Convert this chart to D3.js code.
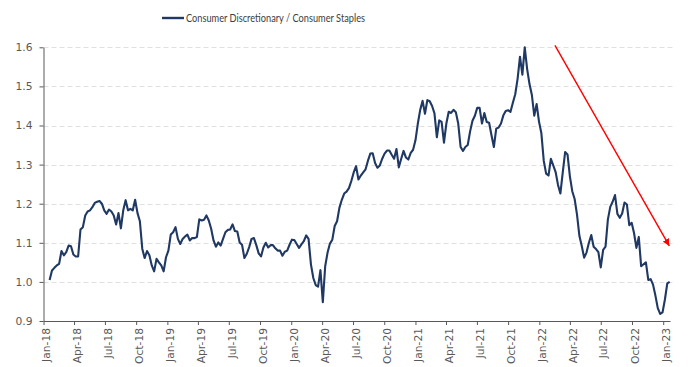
<!DOCTYPE html>
<html>
<head>
<meta charset="utf-8">
<script src="https://cdn.jsdelivr.net/npm/d3@7"></script>
<style>
  html, body { margin: 0; padding: 0; background: #fff; }
  svg { display: block; }
</style>
</head>
<body>
<svg id="chart" width="691" height="367"></svg>
<script>
// Weekly ratio series, first observation on 2018-01-19 (Fridays)
const seriesName = "Consumer Discretionary / Consumer Staples";
const firstWeek = "2018-01-19";
const ratio = [
  1.005, 1.029, 1.036, 1.042, 1.046, 1.079, 1.068, 1.076, 1.093, 1.091,
  1.070, 1.065, 1.065, 1.134, 1.140, 1.170, 1.180, 1.183, 1.191, 1.202,
  1.205, 1.207, 1.200, 1.183, 1.174, 1.185, 1.180, 1.170, 1.147, 1.176,
  1.137, 1.183, 1.209, 1.183, 1.187, 1.183, 1.210, 1.176, 1.155, 1.085,
  1.061, 1.079, 1.068, 1.042, 1.027, 1.059, 1.050, 1.042, 1.027, 1.063,
  1.080, 1.121, 1.127, 1.140, 1.110, 1.097, 1.110, 1.116, 1.121, 1.106,
  1.112, 1.112, 1.115, 1.160, 1.157, 1.159, 1.170, 1.157, 1.136, 1.106,
  1.090, 1.101, 1.093, 1.110, 1.127, 1.133, 1.134, 1.147, 1.130, 1.129,
  1.101, 1.095, 1.061, 1.072, 1.089, 1.110, 1.112, 1.094, 1.073, 1.065,
  1.088, 1.100, 1.088, 1.094, 1.094, 1.086, 1.080, 1.080, 1.067, 1.077,
  1.080, 1.095, 1.108, 1.107, 1.097, 1.087, 1.096, 1.104, 1.119, 1.110,
  1.045, 1.010, 0.992, 0.988, 1.030, 0.948, 1.040, 1.075, 1.098, 1.108,
  1.143, 1.155, 1.190, 1.210, 1.226, 1.231, 1.240, 1.258, 1.280, 1.296,
  1.262, 1.272, 1.280, 1.288, 1.310, 1.328, 1.329, 1.304, 1.292, 1.298,
  1.315, 1.328, 1.336, 1.336, 1.325, 1.315, 1.340, 1.293, 1.315, 1.335,
  1.318, 1.313, 1.330, 1.338, 1.362, 1.405, 1.440, 1.463, 1.430, 1.465,
  1.462, 1.450, 1.431, 1.370, 1.413, 1.409, 1.356, 1.405, 1.435, 1.432,
  1.440, 1.434, 1.405, 1.345, 1.335, 1.345, 1.350, 1.385, 1.412, 1.425,
  1.445, 1.445, 1.405, 1.432, 1.409, 1.407, 1.375, 1.345, 1.392, 1.395,
  1.405, 1.426, 1.437, 1.439, 1.435, 1.458, 1.480, 1.520, 1.576, 1.530,
  1.600, 1.545, 1.506, 1.478, 1.425, 1.455, 1.410, 1.380, 1.310, 1.277,
  1.272, 1.315, 1.298, 1.281, 1.248, 1.226, 1.280, 1.332, 1.326, 1.270,
  1.232, 1.212, 1.172, 1.118, 1.092, 1.062, 1.075, 1.100, 1.120, 1.090,
  1.084, 1.076, 1.037, 1.082, 1.090, 1.160, 1.192, 1.205, 1.222, 1.174,
  1.164, 1.175, 1.203, 1.198, 1.145, 1.151, 1.125, 1.087, 1.115, 1.040,
  1.045, 1.050, 1.005, 1.007, 0.993, 0.965, 0.933, 0.918, 0.922, 0.955,
  0.996, 1.000
];

// Axis settings
const yTicks = [0.9, 1.0, 1.1, 1.2, 1.3, 1.4, 1.5, 1.6];
const gridTicks = [1.0, 1.1, 1.2, 1.3, 1.4, 1.5, 1.6];
const xDomain = ["2018-01-01", "2023-01-21"];
const xTickStart = "2018-01-01";
const xTickEnd = "2023-01-02";

// Trend arrow annotation: [date, value] at tail and head
const trendArrow = [["2022-02-16", 1.605], ["2023-01-19", 1.092]];

const parse = d3.utcParse("%Y-%m-%d");
const start = parse(firstWeek);
const data = ratio.map((v, i) => ({ date: d3.utcWeek.offset(start, i), value: v }));

const svg = d3.select("#chart");
const plot = { left: 43.5, right: 670, top: 47.3, bottom: 321 };

const x = d3.scaleUtc().domain(xDomain.map(parse)).range([plot.left, plot.right]);
const y = d3.scaleLinear().domain([0.9, 1.6]).range([plot.bottom, plot.top]);

const axisColor = "#595959";
const labelFont = "'DejaVu Sans', Verdana, sans-serif";

// Dashed horizontal gridlines
svg.append("g")
  .selectAll("line")
  .data(gridTicks)
  .join("line")
  .attr("x1", plot.left)
  .attr("x2", plot.right + 3)
  .attr("y1", d => Math.round(y(d)) + 0.5)
  .attr("y2", d => Math.round(y(d)) + 0.5)
  .attr("stroke", "#e0e0e0")
  .attr("stroke-width", 1)
  .attr("stroke-dasharray", "5,3");

// Y axis
const yAxis = svg.append("g")
  .attr("transform", `translate(${plot.left},0)`)
  .call(d3.axisLeft(y).tickValues(yTicks).tickFormat(d3.format(".1f"))
    .tickSize(4).tickSizeOuter(0).tickPadding(7));
yAxis.select(".domain").attr("stroke", axisColor);
yAxis.selectAll(".tick line").attr("stroke", axisColor);
yAxis.selectAll("text")
  .attr("fill", axisColor)
  .style("font-family", labelFont)
  .style("font-size", "10.7px");

// X axis: quarterly ticks
const quarterTicks = d3.utcMonth.every(3).range(parse(xTickStart), parse(xTickEnd));
const xAxis = svg.append("g")
  .attr("transform", `translate(0,${plot.bottom})`)
  .call(d3.axisBottom(x).tickValues(quarterTicks).tickFormat(d3.utcFormat("%b-%y"))
    .tickSize(4).tickSizeOuter(0));
xAxis.select(".domain").attr("stroke", axisColor);
xAxis.selectAll(".tick line").attr("stroke", axisColor);
xAxis.selectAll("text")
  .attr("fill", axisColor)
  .style("font-family", labelFont)
  .style("font-size", "10.7px")
  .attr("text-anchor", "end")
  .attr("transform", "rotate(-90)")
  .attr("x", -7)
  .attr("y", 0)
  .attr("dy", "0.58em");

// Ratio line
const line = d3.line().x(d => x(d.date)).y(d => y(d.value)).curve(d3.curveLinear);
svg.append("path")
  .datum(data)
  .attr("d", line)
  .attr("fill", "none")
  .attr("stroke", "#1f3864")
  .attr("stroke-width", 2.1)
  .attr("stroke-linejoin", "round");

// Red downtrend arrow
svg.append("defs").append("marker")
  .attr("id", "arrowHead")
  .attr("viewBox", "0 0 10 10")
  .attr("refX", 10).attr("refY", 5)
  .attr("markerWidth", 7).attr("markerHeight", 7)
  .attr("markerUnits", "userSpaceOnUse")
  .attr("orient", "auto")
  .append("path")
  .attr("d", "M0,0 L10,5 L0,10 Z")
  .attr("fill", "#ff0000");

const [tail, head] = trendArrow.map(([d, v]) => [x(parse(d)), y(v)]);
svg.append("line")
  .attr("x1", tail[0]).attr("y1", tail[1])
  .attr("x2", head[0]).attr("y2", head[1])
  .attr("stroke", "#ff0000")
  .attr("stroke-width", 1.4)
  .attr("marker-end", "url(#arrowHead)");

// Legend
const legend = svg.append("g");
legend.append("line")
  .attr("x1", 162).attr("x2", 184)
  .attr("y1", 18).attr("y2", 18)
  .attr("stroke", "#1f3864")
  .attr("stroke-width", 2.4);
legend.append("text")
  .attr("x", 186).attr("y", 22)
  .attr("fill", "#404040")
  .style("font-family", "'Liberation Sans Narrow', 'Arial Narrow', Lato, sans-serif")
  .style("font-size", "11.5px")
  .attr("textLength", 179)
  .attr("lengthAdjust", "spacingAndGlyphs")
  .text(seriesName);
</script>
</body>
</html>
